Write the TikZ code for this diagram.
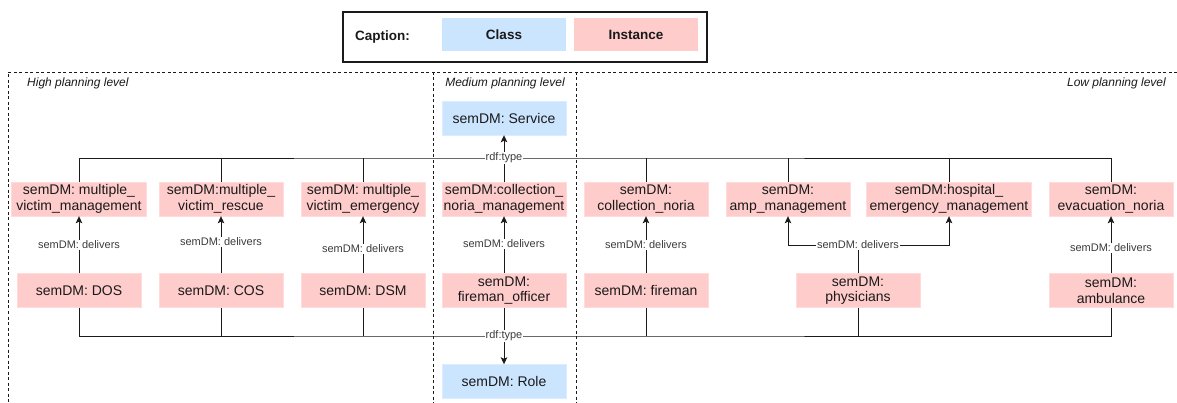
\documentclass[tikz,border=0pt]{standalone}
\usepackage{fontspec}
\setmainfont{Liberation Sans}
\usetikzlibrary{arrows.meta}
\definecolor{clsblue}{HTML}{CCE5FF}
\definecolor{instpink}{HTML}{FFCCCC}
\definecolor{ink}{HTML}{1A1A1A}
\tikzset{
  inst/.style={fill=instpink, draw=instpink!70, line width=0.4pt, inner sep=0pt, minimum width=124pt, minimum height=34pt, align=center, text=ink, font=\fontsize{14}{15.7}\selectfont},
  cls/.style={inst, fill=clsblue, draw=clsblue!70},
  conn/.style={draw=ink, line width=0.9pt},
  arr/.style={conn, -{Stealth[length=7pt,width=6.5pt,inset=1.5pt]}},
  lbl/.style={fill=white, inner sep=1pt, text=ink!85, font=\fontsize{11}{12}\selectfont},
  zone/.style={draw=ink, line width=0.7pt, dash pattern=on 3pt off 2.5pt},
  zonelbl/.style={inner sep=0pt, text=ink, font=\fontsize{12}{13}\selectfont\itshape},
  keybox/.style={inner sep=0pt, minimum width=124pt, minimum height=33pt, text=ink, font=\fontsize{13.5}{15}\selectfont\bfseries}
}
\begin{document}
\begin{tikzpicture}[x=1pt,y=-1pt]
\useasboundingbox (0,0) rectangle (1177,403);
% caption
\node[draw=ink, line width=2pt, minimum width=364pt, minimum height=50pt, inner sep=0pt] (cap) at (525,37) {};
\node[inner sep=0pt, anchor=west, text=ink, font=\fontsize{13.5}{15}\selectfont\bfseries] (capt) at (355,37) {Caption:};
\node[keybox, fill=clsblue] (keyc) at (504,35) {Class};
\node[keybox, fill=instpink] (keyi) at (636,35) {Instance};
% zones
\draw[zone] (1177,72) -- (8,72) -- (8,403);
\draw[zone] (433.5,72) -- (433.5,403);
\draw[zone] (576.5,72) -- (576.5,403);
\node[zonelbl, anchor=west] (zh) at (27,83) {High planning level};
\node[zonelbl] (zm) at (505,83) {Medium planning level};
\node[zonelbl, anchor=east] (zl) at (1166,83) {Low planning level};
% classes
\node[cls] (svc) at (504,118) {semDM: Service};
\node[cls] (role) at (504,381.5) {semDM: Role};
% top row
\node[inst, minimum width=135pt] (mvm) at (79,199) {semDM: multiple\_\\victim\_management};
\node[inst] (mvr) at (221,199) {semDM:multiple\_\\victim\_rescue};
\node[inst] (mve) at (363,199) {semDM: multiple\_\\victim\_emergency};
\node[inst] (cnm) at (504,199) {semDM:collection\_\\noria\_management};
\node[inst] (cn) at (646,199) {semDM:\\collection\_noria};
\node[inst] (amp) at (788,199) {semDM:\\amp\_management};
\node[inst, minimum width=165pt] (hem) at (949,199) {semDM:hospital\_\\emergency\_management};
\node[inst] (evn) at (1111,199) {semDM:\\evacuation\_noria};
% bottom row
\node[inst] (dos) at (79,290.5) {semDM: DOS};
\node[inst] (cos) at (221,290.5) {semDM: COS};
\node[inst] (dsm) at (363,290.5) {semDM: DSM};
\node[inst] (fo) at (504,290.5) {semDM:\\fireman\_officer};
\node[inst] (fm) at (646,290.5) {semDM: fireman};
\node[inst] (phy) at (858,290.5) {semDM:\\physicians};
\node[inst] (amb) at (1111,290.5) {semDM:\\ambulance};
% top bus
\coordinate (tb) at (504,158);
\draw[conn] (mvm.north) |- (tb) -| (evn.north);
\foreach \n in {mvr,mve,cn,amp,hem}{\draw[conn] (\n.north) -- (\n.north |- tb);}
\draw[arr] (cnm.north) -- (svc.south);
\node[lbl] (tbl) at (tb) {rdf:type};
% bottom bus
\coordinate (bb) at (504,336);
\draw[conn] (dos.south) |- (bb) -| (amb.south);
\foreach \n in {cos,dsm,fm,phy}{\draw[conn] (\n.south) -- (\n.south |- bb);}
\draw[arr] (fo.south) -- (role.north);
\node[lbl] (bbl) at (bb) {rdf:type};
% delivers
\draw[arr] (dos.north) -- node[lbl, pos=0.5] (d1) {semDM: delivers} (mvm.south);
\draw[arr] (cos.north) -- node[lbl, pos=0.55] (d2) {semDM: delivers} (mvr.south);
\draw[arr] (dsm.north) -- node[lbl, pos=0.43] (d3) {semDM: delivers} (mve.south);
\draw[arr] (fo.north) -- node[lbl, pos=0.52] (d4) {semDM: delivers} (cnm.south);
\draw[arr] (fm.north) -- node[lbl, pos=0.5] (d5) {semDM: delivers} (cn.south);
\draw[arr] (amb.north) -- node[lbl, pos=0.45] (d7) {semDM: delivers} (evn.south);
\coordinate (pd) at (858,245);
\draw[conn] (phy.north) -- (pd);
\draw[arr] (pd) -| (amp.south);
\draw[arr] (pd) -| (hem.south);
\node[lbl] (d6) at (pd) {semDM: delivers};
\end{tikzpicture}
\end{document}
